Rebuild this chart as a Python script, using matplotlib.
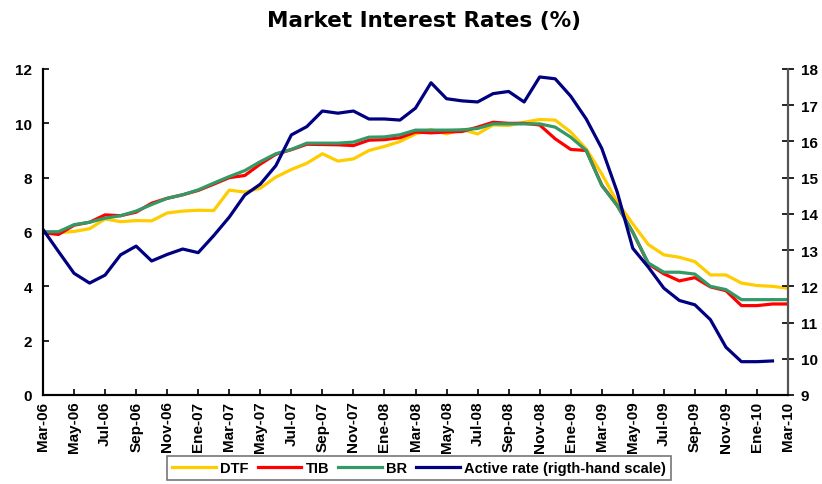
import matplotlib.pyplot as plt
import numpy as np

# monthly values, Mar-06 .. Mar-10
dtf = [5.97, 5.97, 6.02, 6.12, 6.48, 6.38, 6.42, 6.41, 6.70, 6.77, 6.80, 6.79,
       7.54, 7.47, 7.61, 8.02, 8.30, 8.53, 8.88, 8.61, 8.69, 9.00, 9.15, 9.33,
       9.61, 9.77, 9.61, 9.77, 9.61, 9.94, 9.92, 10.04, 10.14, 10.12, 9.68, 9.06,
       8.14, 7.10, 6.30, 5.54, 5.16, 5.07, 4.91, 4.42, 4.42, 4.12, 4.03, 4.00, 3.93]
tib = [5.97, 5.91, 6.25, 6.36, 6.63, 6.60, 6.73, 7.06, 7.24, 7.37, 7.53, 7.76,
       8.00, 8.08, 8.50, 8.86, 9.03, 9.23, 9.22, 9.21, 9.18, 9.38, 9.40, 9.47,
       9.68, 9.65, 9.68, 9.70, 9.86, 10.04, 10.00, 10.00, 9.94, 9.43, 9.04, 9.00,
       7.73, 6.97, 5.99, 4.83, 4.46, 4.20, 4.32, 3.98, 3.84, 3.29, 3.29, 3.35, 3.35]
br = [6.01, 6.01, 6.27, 6.36, 6.51, 6.60, 6.77, 7.01, 7.24, 7.37, 7.55, 7.80,
      8.04, 8.26, 8.59, 8.88, 9.04, 9.27, 9.27, 9.27, 9.31, 9.49, 9.50, 9.58,
      9.75, 9.75, 9.75, 9.76, 9.81, 9.98, 9.98, 9.98, 9.98, 9.86, 9.49, 9.00,
      7.71, 6.97, 5.99, 4.86, 4.52, 4.52, 4.45, 4.00, 3.88, 3.51, 3.51, 3.51, 3.51]
active = [13.57, 12.96, 12.36, 12.09, 12.31, 12.87, 13.11, 12.70, 12.88, 13.03, 12.93, 13.40,
          13.91, 14.52, 14.82, 15.33, 16.18, 16.41, 16.84, 16.78, 16.84, 16.62, 16.62, 16.59,
          16.92, 17.62, 17.18, 17.12, 17.09, 17.32, 17.38, 17.09, 17.78, 17.73, 17.25, 16.62,
          15.81, 14.60, 13.05, 12.53, 11.95, 11.61, 11.49, 11.08, 10.32, 9.92, 9.92, 9.94]

tick_labels = ['Mar-06', 'May-06', 'Jul-06', 'Sep-06', 'Nov-06', 'Ene-07', 'Mar-07',
               'May-07', 'Jul-07', 'Sep-07', 'Nov-07', 'Ene-08', 'Mar-08', 'May-08',
               'Jul-08', 'Sep-08', 'Nov-08', 'Ene-09', 'Mar-09', 'May-09', 'Jul-09',
               'Sep-09', 'Nov-09', 'Ene-10', 'Mar-10']

plt.rcParams['font.family'] = ['Liberation Sans', 'DejaVu Sans']
plt.rcParams['font.weight'] = 'bold'

fig = plt.figure(figsize=(8.22, 4.85), dpi=100)
ax = fig.add_axes([43/822, 1-396/485, (788-43)/822, (396-70)/485])
ax2 = ax.twinx()

lw = 2.3
l1, = ax.plot(np.arange(len(dtf)), dtf, color='#FFCC00', lw=lw, label='DTF')
l2, = ax.plot(np.arange(len(tib)), tib, color='#FF0000', lw=lw, label='TIB')
l3, = ax.plot(np.arange(len(br)), br, color='#339966', lw=lw, label='BR')
l4, = ax2.plot(np.arange(len(active)), active, color='#000080', lw=lw,
               label='Active rate (rigth-hand scale)')

ax.set_xlim(0, 48)
ax.set_ylim(0, 12)
ax2.set_ylim(9, 18)
ax.set_yticks(range(0, 13, 2))
ax2.set_yticks(range(9, 19))
ax.set_xticks(range(0, 49, 2))
ax.set_xticklabels(tick_labels, rotation=90, fontsize=11, fontweight='bold')
ax.tick_params(axis='y', labelsize=11, direction='in', length=4, width=1.2, pad=8)
ax.tick_params(axis='x', direction='in', length=4, width=1.2, pad=4)
ax2.tick_params(axis='y', labelsize=11, direction='inout', length=8, width=1.2, pad=5)
for a in (ax, ax2):
    a.spines['top'].set_visible(False)
    for s in ('left', 'right', 'bottom'):
        a.spines[s].set_linewidth(1.5)
ax2.spines['right'].set_color('#555555')

fig.suptitle('Market Interest Rates (%)', x=424/822, y=0.978, fontsize=15.5, fontweight='bold',
             family='DejaVu Sans')

leg = fig.legend(handles=[l1, l2, l3, l4], loc='center', bbox_to_anchor=(419/822, 1-469/485),
                 ncol=4, fontsize=10.5, frameon=True, fancybox=False, handlelength=3,
                 columnspacing=0.6, handletextpad=0.3, borderpad=0.35)
leg.get_frame().set_edgecolor('#555555')
leg.get_frame().set_linewidth(1.2)
for t in leg.get_texts():
    t.set_fontweight('bold')

fig.savefig('out.png', dpi=100)
